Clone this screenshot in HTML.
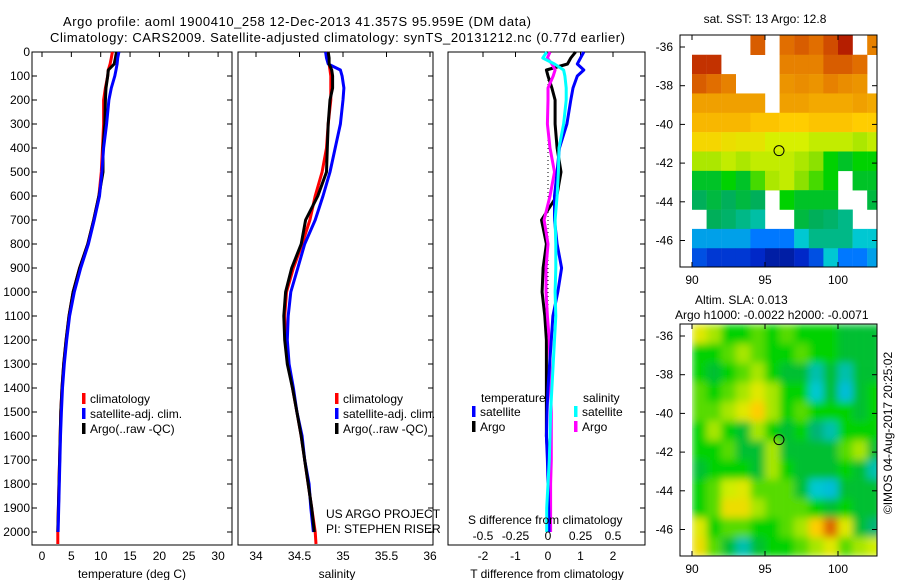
<!DOCTYPE html>
<html><head><meta charset="utf-8"><title>Argo profile</title>
<style>
html,body{margin:0;padding:0;background:#fff;}
svg{display:block;font-family:"Liberation Sans",sans-serif;}
text{font-size:12px;fill:#000;}
</style></head>
<body>
<svg id="fig" width="900" height="580" viewBox="0 0 900 580" xmlns="http://www.w3.org/2000/svg">
<text x="63" y="26" style="font-size:13px" textLength="468">Argo profile: aoml 1900410_258 12-Dec-2013 41.357S 95.959E (DM data)</text>
<text x="50" y="42" style="font-size:13px" textLength="575">Climatology: CARS2009. Satellite-adjusted climatology: synTS_20131212.nc (0.77d earlier)</text>
<g id="p1"></g>
<g id="p2"></g>
<g id="p3"></g>
<g id="m1"></g>
<g id="m2"></g>
<text x="765" y="23" text-anchor="middle">sat. SST: 13 Argo: 12.8</text>
<text x="695" y="304">Altim. SLA: 0.013</text>
<text x="675" y="319">Argo h1000: -0.0022 h2000: -0.0071</text>
<text transform="translate(892,433) rotate(-90)" text-anchor="middle">©IMOS 04-Aug-2017 20:25:02</text>
</svg>
<script>
const NS="http://www.w3.org/2000/svg";
// ---- data ----
const depths=[0,25,50,75,100,150,200,300,400,500,600,700,800,900,1000,1100,1200,1300,1400,1500,1600,1700,1800,1900,2000,2050];
const tempClim=[12.0,11.8,11.6,11.3,11.2,10.8,10.5,10.5,10.3,10.1,9.7,8.8,7.8,6.4,5.3,4.6,4.1,3.7,3.4,3.2,3.1,3.0,2.9,2.8,2.7,2.7];
const tempSat=[13.1,12.9,12.8,12.6,12.4,11.8,11.4,11.0,10.5,10.2,9.8,8.9,7.9,6.6,5.5,4.7,4.2,3.8,3.5,3.3,3.15,3.05,2.95,2.85,2.75,null];
const tempArgo=[12.7,12.5,12.3,11.3,11.2,10.9,10.8,10.7,10.4,10.4,9.7,8.8,7.8,6.4,5.3,4.6,4.1,3.7,3.4,3.2,3.1,3.0,2.9,2.8,2.7,null];
const salClim=[34.82,34.83,34.84,34.85,34.86,34.86,34.86,34.83,34.81,34.76,34.68,34.62,34.53,34.43,34.35,34.33,34.34,34.37,34.42,34.47,34.52,34.56,34.60,34.64,34.68,34.69];
const salSat=[34.80,34.81,34.83,34.97,34.99,35.01,35.0,34.97,34.91,34.85,34.77,34.68,34.56,34.48,34.40,34.37,34.36,34.38,34.43,34.47,34.53,34.56,34.61,34.63,34.66,null];
const salArgo=[34.83,34.84,34.84,34.87,34.88,34.88,34.85,34.83,34.82,34.81,34.71,34.57,34.52,34.41,34.34,34.32,34.33,34.36,34.42,34.47,34.52,34.56,34.60,34.64,34.67,null];
const dTSat=[1.1,1.0,0.9,1.1,0.9,0.77,0.7,0.58,0.35,0.28,0.2,0.2,0.28,0.42,0.3,0.15,0.1,0.05,0.0,-0.03,-0.05,-0.02,0.0,0.02,0.03,null];
const dTArgo=[0.85,0.7,0.6,-0.05,0.0,0.12,0.22,0.22,0.28,0.4,0.27,-0.2,-0.05,-0.15,-0.18,-0.1,-0.05,-0.05,-0.05,-0.05,-0.05,0.0,0.0,0.0,0.0,null];
const dSSat=[-0.01,-0.04,0.05,0.12,0.13,0.14,0.14,0.12,0.085,0.08,0.07,0.055,0.06,0.06,0.055,0.06,0.05,0.04,0.03,0.02,0.015,0.01,0.0,-0.01,-0.01,null];
const dSArgo=[0.015,-0.005,0.03,0.055,0.04,0.0,0.0,-0.005,0.015,0.05,0.015,-0.03,0.0,-0.015,-0.015,-0.005,0.01,0.015,0.02,0.025,0.025,0.025,0.02,0.02,0.02,null];
const depthTicks=[0,100,200,300,400,500,600,700,800,900,1000,1100,1200,1300,1400,1500,1600,1700,1800,1900,2000];
const tempTicks=[0,5,10,15,20,25,30];
const salTicks=[34,34.5,35,35.5,36];
const salTickLabels=["34","34.5","35","35.5","36"];
const dTTicks=[-2,-1,0,1,2];
const dSTicks=[-0.5,-0.25,0,0.25,0.5];
const dSTickLabels=["-0.5","-0.25","0","0.25","0.5"];
const latTicks=[-36,-38,-40,-42,-44,-46];
const lonTicks=[90,95,100];
const sstGrid=[
[null,null,null,null,0.9,null,0.88,0.9,0.88,0.92,0.97,null,0.85],
[0.95,0.95,null,null,null,null,0.85,0.85,0.85,0.9,0.9,0.88,null],
[0.9,0.88,0.85,null,null,null,0.82,0.83,0.82,0.85,0.83,0.82,null],
[0.8,0.8,0.8,0.8,0.8,null,0.8,0.8,0.78,0.78,0.78,0.8,0.78],
[0.75,0.75,0.75,0.75,0.72,0.72,0.7,0.7,0.72,0.72,0.72,0.7,0.7],
[0.68,0.68,0.66,0.65,0.65,0.62,0.62,0.62,0.6,0.6,0.6,0.58,0.6],
[0.58,0.58,0.6,0.58,0.6,0.6,0.6,0.58,0.55,0.45,0.42,0.45,0.45],
[0.42,0.42,0.45,0.42,0.5,0.58,0.6,0.55,0.5,0.45,null,0.42,0.42],
[0.38,0.4,0.38,0.4,0.38,null,0.45,0.42,0.42,0.42,null,null,0.4],
[null,0.38,0.37,0.35,0.33,null,null,0.4,0.38,0.37,0.35,null,null],
[0.25,0.25,0.25,0.25,0.2,0.2,0.2,0.3,0.35,0.35,0.35,0.3,0.3],
[0.15,0.12,0.12,0.12,0.1,0.05,0.05,0.1,0.15,0.3,0.2,0.2,0.25]];
const slaGrid=[
[0.6,0.55,0.45,0.45,0.5,0.45,0.5,0.45,0.45,0.45,0.42,0.42,0.42],
[0.45,0.45,0.5,0.55,0.5,0.45,0.45,0.5,0.45,0.45,0.42,0.42,0.42],
[0.45,0.42,0.45,0.5,0.55,0.45,0.42,0.42,0.35,0.42,0.35,0.42,0.42],
[0.5,0.45,0.5,0.55,0.6,0.55,0.45,0.45,0.33,0.42,0.32,0.42,0.45],
[0.5,0.5,0.55,0.6,0.65,0.55,0.45,0.5,0.45,0.45,0.45,0.42,0.45],
[0.45,0.55,0.45,0.42,0.55,0.45,0.42,0.45,0.38,0.35,0.45,0.45,0.45],
[0.45,0.45,0.5,0.42,0.42,0.55,0.42,0.42,0.42,0.42,0.5,0.55,0.42],
[0.42,0.45,0.45,0.45,0.42,0.55,0.45,0.42,0.42,0.42,0.45,0.42,0.35],
[0.45,0.5,0.58,0.6,0.5,0.5,0.5,0.42,0.33,0.32,0.42,0.42,0.42],
[0.45,0.5,0.62,0.62,0.55,0.5,0.5,0.5,0.45,0.42,0.45,0.42,0.42],
[0.6,0.45,0.5,0.5,0.45,0.45,0.5,0.55,0.65,0.8,0.6,0.42,0.38],
[0.62,0.5,0.42,0.35,0.42,0.45,0.45,0.5,0.55,0.6,0.5,0.55,0.58]];
const argoLon=95.959, argoLat=-41.357;

// ---- helpers ----
function mk(parent,tag,attrs,txt){const e=document.createElementNS(NS,tag);for(const k in attrs)e.setAttribute(k,attrs[k]);if(txt!==undefined)e.textContent=txt;parent.appendChild(e);return e;}
const yD=d=>52+d*0.24;
const pTop=52,pBot=545;
function frame(g,x0,x1){
  const r=mk(g,'rect',{x:x0,y:pTop,width:x1-x0,height:pBot-pTop,fill:'none',stroke:'#000','stroke-width':1});
  
  
}
function yTicks(g,x0,x1,labels){
  depthTicks.forEach(d=>{
    const y=yD(d);
    if(labels){mk(g,'line',{x1:x0,x2:x0+5,y1:y,y2:y,stroke:'#000'});
      const t=mk(g,'text',{x:x0-2,y:y+4,'text-anchor':'end'},String(d));
      
      }
    mk(g,'line',{x1:x1-5,x2:x1,y1:y,y2:y,stroke:'#000'});
  });
}
function series(g,xf,vals,color,name){
  let pts=[];
  vals.forEach((v,i)=>{if(v!==null)pts.push(xf(v).toFixed(1)+','+yD(depths[i]).toFixed(1));});
  const p=mk(g,'polyline',{points:pts.join(' '),fill:'none',stroke:color,'stroke-width':3,'stroke-linejoin':'round'});
  
  
}
function legend(g,x,y,color,label){
  mk(g,'rect',{x:x,y:y-10,width:3.5,height:11,fill:color});
  const t=mk(g,'text',{x:x+8,y:y},label);
  
  
}

// ---- panel 1 temperature ----
(function(){
  const g=document.getElementById('p1');
  const xT=t=>42+5.87*t;
  frame(g,32,232);yTicks(g,32,232,true);
  tempTicks.forEach(t=>{mk(g,'line',{x1:xT(t),x2:xT(t),y1:pTop,y2:pTop+5,stroke:'#000'});
    const l=mk(g,'text',{x:xT(t),y:560,'text-anchor':'middle'},String(t));
    
    });
  series(g,xT,tempClim,'#f00','temperature-climatology-line');
  series(g,xT,tempArgo,'#000','temperature-argo-line');
  series(g,xT,tempSat,'#00f','temperature-satellite-line');
  const xl=mk(g,'text',{x:132,y:578,'text-anchor':'middle'},'temperature (deg C)');
  
  
  legend(g,82,403,'#f00','climatology');
  legend(g,82,418,'#00f','satellite-adj. clim.');
  legend(g,82,433,'#000','Argo(..raw -QC)');
})();
// ---- panel 2 salinity ----
(function(){
  const g=document.getElementById('p2');
  const xS=s=>256+87*(s-34);
  frame(g,238,433);yTicks(g,238,433,false);
  salTicks.forEach((s,i)=>{mk(g,'line',{x1:xS(s),x2:xS(s),y1:pTop,y2:pTop+5,stroke:'#000'});
    const l=mk(g,'text',{x:xS(s),y:560,'text-anchor':'middle'},salTickLabels[i]);
    
    });
  series(g,xS,salClim,'#f00','salinity-climatology-line');
  series(g,xS,salSat,'#00f','salinity-satellite-line');
  series(g,xS,salArgo,'#000','salinity-argo-line');
  const xl=mk(g,'text',{x:337,y:578,'text-anchor':'middle'},'salinity');
  
  
  legend(g,335,403,'#f00','climatology');
  legend(g,335,418,'#00f','satellite-adj. clim.');
  legend(g,335,433,'#000','Argo(..raw -QC)');
  const a=mk(g,'text',{x:326,y:518},'US ARGO PROJECT');
  
  
  const b=mk(g,'text',{x:326,y:533},'PI: STEPHEN RISER');
  
  
})();
// ---- panel 3 differences ----
(function(){
  const g=document.getElementById('p3');
  const xT=t=>548+32.5*t, xS=s=>548+130*s;
  frame(g,448,645);yTicks(g,448,645,false);
  mk(g,'line',{x1:548,x2:548,y1:yD(100),y2:yD(1200),stroke:'#000','stroke-dasharray':'1,3'});
  dTTicks.forEach(t=>{mk(g,'line',{x1:xT(t),x2:xT(t),y1:pTop,y2:pTop+5,stroke:'#000'});
    const l=mk(g,'text',{x:xT(t),y:560,'text-anchor':'middle'},String(t));
    
    });
  series(g,xT,dTArgo,'#000','tdiff-argo-line');
  series(g,xS,dSArgo,'#f0f','sdiff-argo-line');
  series(g,xT,dTSat,'#00f','tdiff-satellite-line');
  series(g,xS,dSSat,'#0ff','sdiff-satellite-line');
  dSTicks.forEach((s,i)=>{const l=mk(g,'text',{x:xS(s),y:540,'text-anchor':'middle'},dSTickLabels[i]);
    
    });
  const st=mk(g,'text',{x:468,y:524},'S difference from climatology');
  
  
  const xl=mk(g,'text',{x:547,y:578,'text-anchor':'middle'},'T difference from climatology');
  
  
  const h1=mk(g,'text',{x:481,y:402},'temperature');
  
  
  const h2=mk(g,'text',{x:583,y:402},'salinity');
  
  
  legend(g,472,416,'#00f','satellite');
  legend(g,472,431,'#000','Argo');
  legend(g,574,416,'#0ff','satellite');
  legend(g,574,431,'#f0f','Argo');
})();
// ---- maps ----
const stops=[[0,[0,20,130]],[0.1,[0,40,200]],[0.2,[0,120,255]],[0.3,[0,200,210]],[0.38,[0,175,90]],[0.45,[0,210,0]],[0.55,[140,225,0]],[0.62,[215,240,0]],[0.7,[255,205,0]],[0.8,[240,160,0]],[0.88,[225,110,0]],[0.95,[195,50,0]],[1,[160,0,0]]];
function cmap(v){v=Math.max(0,Math.min(1,v));for(let i=1;i<stops.length;i++){if(v<=stops[i][0]){const a=stops[i-1],b=stops[i],f=(v-a[0])/(b[0]-a[0]);
  return 'rgb('+a[1].map((c,k)=>Math.round(c+f*(b[1][k]-c))).join(',')+')';}}return 'rgb(160,0,0)';}
function drawMap(id,grid,y0,y1,blur,contrast){
  const g=document.getElementById(id);
  const x0=680,x1=877;
  const lx=lon=>692+14.6*(lon-90);
  const ly=lat=>y0+12+19.35*(-36-lat);
  const defs=mk(g,'defs',{});
  if(blur){const fl=mk(defs,'filter',{id:'bl'+id,x:'0',y:'0',width:'1',height:'1'});mk(fl,'feGaussianBlur',{stdDeviation:blur,edgeMode:'duplicate'});}
  const cp=mk(defs,'clipPath',{id:'cp'+id});
  mk(cp,'rect',{x:lx(90),y:y0,width:x1-lx(90),height:y1-y0});
  const cells=mk(g,'g',{'clip-path':'url(#cp'+id+')'});
  const inner=mk(cells,'g',blur?{filter:'url(#bl'+id+')'}:{});
  grid.forEach((row,r)=>row.forEach((v,c)=>{if(v===null)return;
    const latTop=-35.4-r, lon=90+c;
    const vv=0.45+(v-0.45)*contrast;
    const rc=mk(inner,'rect',{x:lx(lon),y:ly(latTop),width:14.8,height:19.6,fill:cmap(vv)});
    
    
  }));
  const fr=mk(g,'rect',{x:x0,y:y0,width:x1-x0,height:y1-y0,fill:'none',stroke:'#000'});
  
  
  latTicks.forEach(l=>{const y=ly(l);mk(g,'line',{x1:x0,x2:x0+5,y1:y,y2:y,stroke:'#000'});mk(g,'line',{x1:x1-5,x2:x1,y1:y,y2:y,stroke:'#000'});
    const t=mk(g,'text',{x:x0-7,y:y+4,'text-anchor':'end'},String(l));
    
    });
  lonTicks.forEach(l=>{const x=lx(l);mk(g,'line',{x1:x,x2:x,y1:y1-5,y2:y1,stroke:'#000'});mk(g,'line',{x1:x,x2:x,y1:y0,y2:y0+5,stroke:'#000'});
    const t=mk(g,'text',{x:x,y:y1+17,'text-anchor':'middle'},String(l));
    
    });
  const c=mk(g,'ellipse',{cx:lx(argoLon),cy:ly(argoLat),rx:5,ry:5,fill:'none',stroke:'#000','stroke-width':1});
  
  
}
drawMap('m1',sstGrid,35,267,0,1);
drawMap('m2',slaGrid,324,556,4,1.25);
</script>
</body></html>
